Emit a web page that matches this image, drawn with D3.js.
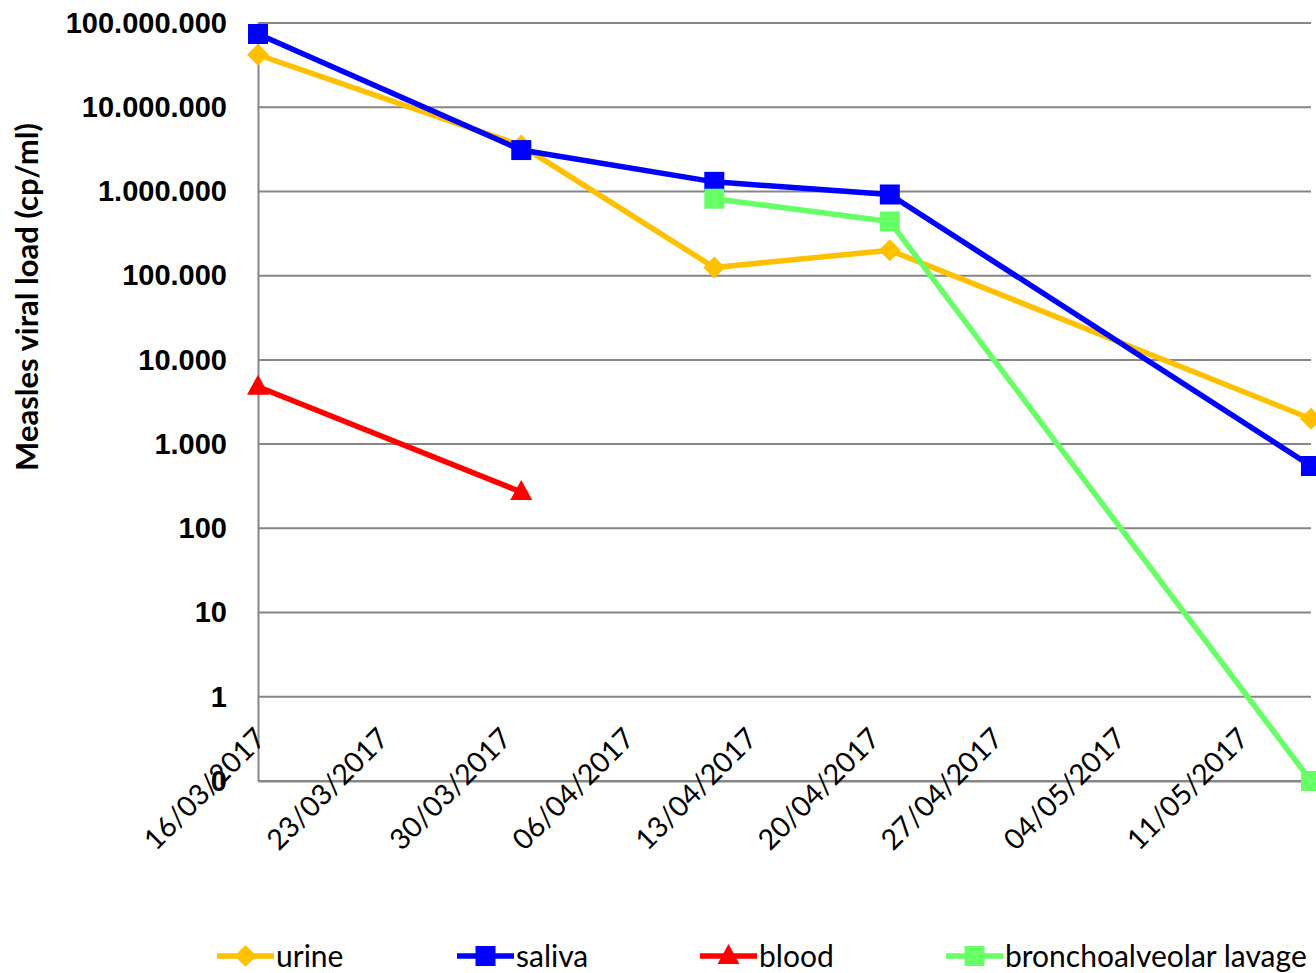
<!DOCTYPE html>
<html>
<head>
<meta charset="utf-8">
<script src="https://cdn.jsdelivr.net/npm/d3@7"></script>
<style>
  html, body { margin: 0; padding: 0; background: #fff; }
  svg { display: block; }
</style>
</head>
<body>
<svg id="chart" width="1316" height="973"></svg>
<script>
// ---- data ----
const sampleDates = ["2017-03-16", "2017-03-31", "2017-04-11", "2017-04-21", "2017-05-15"];
const urine   = [42000000, 3500000, 125000, 200000, 2000];
const saliva  = [74000000, 3100000, 1300000, 920000, 550];
const blood   = [4800, 270, null, null, null];
const bal     = [null, null, 820000, 440000, 0];
const seriesNames = ["urine", "saliva", "blood", "bronchoalveolar lavage"];
const xTickDates = ["2017-03-16", "2017-03-23", "2017-03-30", "2017-04-06", "2017-04-13",
                    "2017-04-20", "2017-04-27", "2017-05-04", "2017-05-11"];
const yTickValues = [0.1, 1, 10, 100, 1000, 10000, 100000, 1000000, 10000000, 100000000];
const yTickLabels = ["0", "1", "10", "100", "1.000", "10.000", "100.000", "1.000.000", "10.000.000", "100.000.000"];
const yTitle = "Measles viral load (cp/ml)";

(function () {
// ---- layout ----
const svg = d3.select("#chart");
const pLeft = 258, pRight = 1311, pTop = 23, pBottom = 781;
const parse = d3.utcParse("%Y-%m-%d");
const fmt = d3.utcFormat("%d/%m/%Y");

const x = d3.scaleUtc()
  .domain([parse("2017-03-16"), parse("2017-05-15")])
  .range([pLeft, pRight]);
const y = d3.scaleLog()
  .domain([0.1, 100000000])
  .range([pBottom, pTop]);
const yv = v => y(Math.max(v, 0.1));

const gridColor = "#868686";

// gridlines
svg.append("g")
  .selectAll("line")
  .data(yTickValues)
  .join("line")
  .attr("x1", pLeft).attr("x2", pRight)
  .attr("y1", d => y(d)).attr("y2", d => y(d))
  .attr("stroke", gridColor).attr("stroke-width", 2);

// y axis
const yAxis = d3.axisLeft(y)
  .tickValues(yTickValues)
  .tickFormat((d, i) => yTickLabels[i])
  .tickSize(0)
  .tickPadding(31);
const gy = svg.append("g").attr("transform", `translate(${pLeft},0)`).call(yAxis);
gy.select(".domain").attr("stroke", gridColor).attr("stroke-width", 2);
gy.selectAll("text")
  .attr("font-family", "'Liberation Sans', Arial, sans-serif")
  .attr("font-weight", "bold")
  .attr("font-size", 29)
  .attr("fill", "#000");

// x axis
const xAxis = d3.axisBottom(x)
  .tickValues(xTickDates.map(parse))
  .tickFormat(fmt)
  .tickSize(0);
const gx = svg.append("g").attr("transform", `translate(0,${pBottom})`).call(xAxis);
gx.select(".domain").attr("stroke", gridColor).attr("stroke-width", 2);
gx.selectAll("text")
  .attr("font-family", "Lato, 'Open Sans', sans-serif")
  .attr("font-size", 28.5)
  .attr("fill", "#000")
  .attr("text-anchor", "end")
  .attr("dy", "0.35em")
  .attr("y", 0)
  .attr("transform", "translate(2,-48) rotate(-45)");

// y title
svg.append("text")
  .attr("transform", `translate(38,297) rotate(-90)`)
  .attr("text-anchor", "middle")
  .attr("font-family", "Lato, 'Open Sans', sans-serif")
  .attr("font-weight", "bold")
  .attr("font-size", 31)
  .attr("fill", "#000")
  .text(yTitle);

// series
const series = [
  { name: seriesNames[0], values: urine,  color: "#FFC000", marker: "diamond" },
  { name: seriesNames[1], values: saliva, color: "#0000FF", marker: "square" },
  { name: seriesNames[2], values: blood,  color: "#FF0000", marker: "triangle" },
  { name: seriesNames[3], values: bal,    color: "#66FF66", marker: "square" }
];

function markerPath(type) {
  if (type === "diamond") return "M0,-11L11,0L0,11L-11,0Z";
  if (type === "triangle") return "M0,-12L11,8L-11,8Z";
  return "M-10,-10H10V10H-10Z";
}

const line = d3.line()
  .defined(d => d.v !== null)
  .x(d => x(d.date))
  .y(d => yv(d.v));

series.forEach(s => {
  const pts = s.values.map((v, i) => ({ date: parse(sampleDates[i]), v }));
  const g = svg.append("g");
  g.append("path")
    .datum(pts)
    .attr("d", line)
    .attr("fill", "none")
    .attr("stroke", s.color)
    .attr("stroke-width", 5.5)
    .attr("stroke-linejoin", "round");
  g.selectAll("path.m")
    .data(pts.filter(d => d.v !== null))
    .join("path")
    .attr("class", "m")
    .attr("d", markerPath(s.marker))
    .attr("transform", d => `translate(${x(d.date)},${yv(d.v)})`)
    .attr("fill", s.color);
});

// legend
const legendX = [217, 457, 700, 946];
const legendY = 956;
const lg = svg.append("g");
series.forEach((s, i) => {
  const g = lg.append("g").attr("transform", `translate(${legendX[i]},${legendY})`);
  g.append("line").attr("x1", 0).attr("x2", 57).attr("y1", 0).attr("y2", 0)
    .attr("stroke", s.color).attr("stroke-width", 5.5);
  g.append("path").attr("d", markerPath(s.marker))
    .attr("transform", "translate(28.5,0)").attr("fill", s.color);
  g.append("text")
    .attr("x", 59).attr("y", 0).attr("dy", "0.35em")
    .attr("font-family", "Lato, 'Open Sans', sans-serif")
    .attr("font-size", 30)
    .attr("fill", "#000")
    .text(s.name);
});
})();
</script>
</body>
</html>
